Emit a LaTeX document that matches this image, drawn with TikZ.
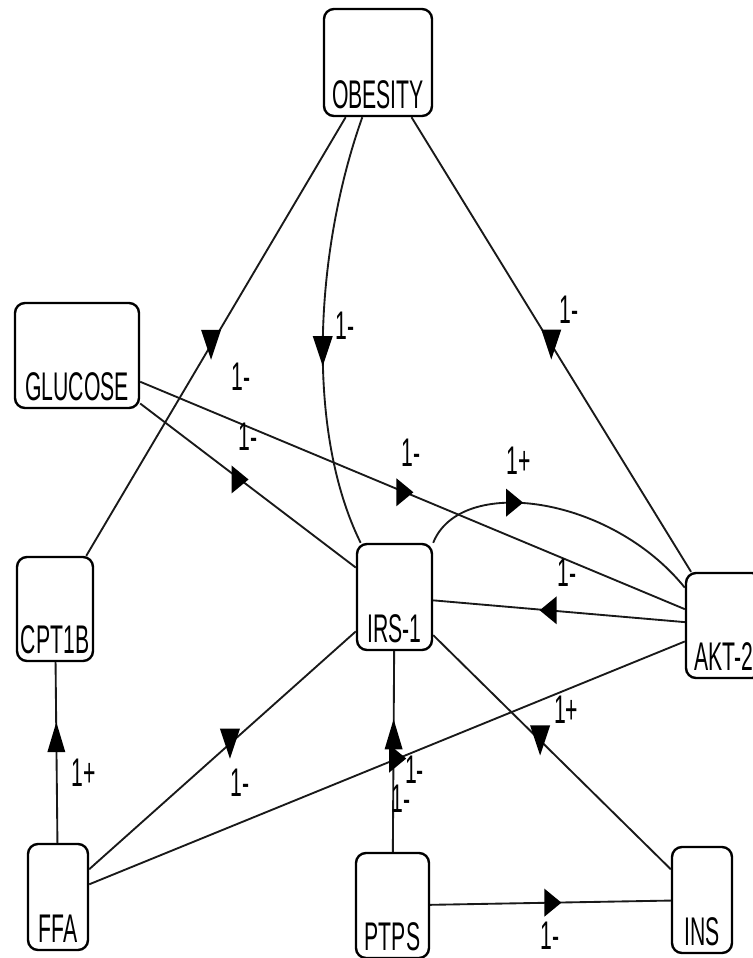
\documentclass[tikz,border=0pt]{standalone}
\usepackage{fontspec}
\usetikzlibrary{calc}
\newfontfamily\netfont[FakeStretch=0.53]{Liberation Sans}
\begin{document}
\begin{tikzpicture}[x=0.75pt,y=-0.75pt,
  box/.style={draw=black, line width=1.8pt, rounded corners=7.5pt, inner sep=0pt,
    align=center, text depth=6pt, font=\netfont\fontsize{30}{32}\selectfont},
  link/.style={draw=black!90, line width=1.4pt},
  wt/.style={inner sep=0pt, font=\netfont\fontsize{30}{32}\selectfont},
  tri down/.pic={\fill (-10,-15) -- (10,-15) -- (0,15) -- cycle;},
  tri up/.pic={\fill (-9,15) -- (9,15) -- (0,-15) -- cycle;},
  tri right/.pic={\fill (-8.5,-14) -- (-8.5,14) -- (8.5,0) -- cycle;},
  tri left/.pic={\fill (8.5,-14) -- (8.5,14) -- (-8.5,0) -- cycle;},
]
\useasboundingbox (0,0) rectangle (753,958);
\clip (0,0) rectangle (753,958);

% species boxes (label sits near the bottom edge)
\node[box, text width=81pt,    text height=74.25pt] (obesity) at (378,62.5)  {OBESITY};
\node[box, text width=93pt,    text height=72.75pt] (glucose) at (77,355.5)  {GLUCOSE};
\node[box, text width=57pt,    text height=72pt]    (cpt1b)   at (55,609)    {CPT1B};
\node[box, text width=56.25pt, text height=73.5pt]  (irs)     at (394.5,597) {IRS-1};
\node[box, text width=57pt,    text height=72.75pt] (akt)     at (724,625.5) {AKT-2};
\node[box, text width=45pt,    text height=73.5pt]  (ffa)     at (58,897)    {FFA};
\node[box, text width=54.75pt, text height=72.75pt] (ptps)    at (392.5,905.5) {PTPS};
\node[box, text width=45pt,    text height=73.5pt]  (ins)     at (702,900)   {INS};

% interactions
\draw[link] (obesity) -- coordinate[pos=0.519] (m1) (cpt1b);
\draw[link] (obesity.254) .. controls (315,250) and (305,430) .. coordinate[pos=0.53] (m2) (irs.122);
\draw[link] (obesity) -- coordinate[pos=0.5] (m3) (akt);
\draw[link] (glucose) -- coordinate[pos=0.463] (m4) (irs);
\draw[link] (glucose) -- coordinate[pos=0.486] (m5) (akt);
\draw[link] (irs.north east) .. controls (460,475) and (610,495) .. coordinate[pos=0.41] (m6) (akt.136);
\draw[link] (akt) -- coordinate[pos=0.543] (m7) (irs);
\draw[link] (ffa) -- coordinate[pos=0.585] (m8) (cpt1b);
\draw[link] (ffa) -- coordinate[pos=0.528] (m9) (irs);
\draw[link] (ffa) -- coordinate[pos=0.518] (m10) (akt);
\draw[link] (ptps) -- coordinate[pos=0.586] (m11) (irs);
\draw[link] (ptps) -- coordinate[pos=0.51] (m12) (ins);
\draw[link] (ins) -- coordinate[pos=0.55] (m13) (irs);

% arrowheads
\pic at (m1) {tri down};
\pic at (m2) {tri down};
\pic at (m3) {tri down};
\pic at (m4) {tri right};
\pic at (m5) {tri right};
\pic at (m6) {tri right};
\pic at (m7) {tri left};
\pic at (m8) {tri up};
\pic at (m9) {tri down};
\pic at (m10) {tri right};
\pic at (m11) {tri up};
\pic at (m12) {tri right};
\pic at (m13) {tri down};

% weights
\node[wt] (w1)  at ($(m1)+(30,32)$)   {1-};
\node[wt] (w2)  at ($(m2)+(22,-25)$)  {1-};
\node[wt] (w3)  at ($(m3)+(18,-35)$)  {1-};
\node[wt] (w4)  at ($(m4)+(8,-43)$)   {1-};
\node[wt] (w5)  at ($(m5)+(6,-40)$)   {1-};
\node[wt] (w6)  at ($(m6)+(4,-42)$)   {1+};
\node[wt] (w7)  at ($(m7)+(19,-38)$)  {1-};
\node[wt] (w8)  at ($(m8)+(27,36)$)   {1+};
\node[wt] (w9)  at ($(m9)+(10,39)$)   {1-};
\node[wt] (w10) at ($(m10)+(3,40)$)   {1-};
\node[wt] (w11) at ($(m11)+(21,35)$)  {1-};
\node[wt] (w12) at ($(m12)+(-3,33)$)  {1-};
\node[wt] (w13) at ($(m13)+(26,-31)$) {1+};
\end{tikzpicture}
\end{document}
